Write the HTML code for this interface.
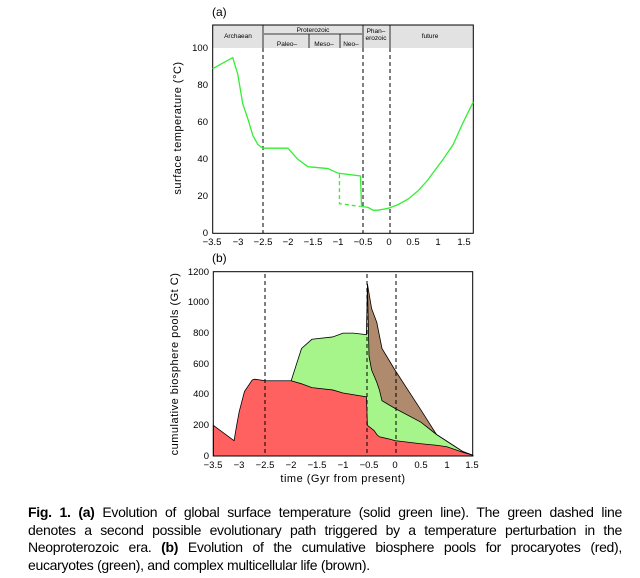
<!DOCTYPE html><html><head><style>body{margin:0;background:#fff;width:640px;height:578px;overflow:hidden;font-family:"Liberation Sans",sans-serif}
.c{position:absolute;left:28px;top:504px;width:594px;font-size:14px;line-height:17.5px;color:#000;letter-spacing:-0.3px}
.c div{text-align:justify;text-align-last:justify;white-space:nowrap}
.c div.l{text-align-last:left}
</style></head><body>
<svg width="640" height="490" style="position:absolute;left:0;top:0" font-family="Liberation Sans,sans-serif">
<text x="212" y="16" font-size="12">(a)</text>
<rect x="212.7" y="25" width="260.6" height="23" fill="#e2e2e2"/>
<g stroke="#000" stroke-width="0.8" fill="none">
<line x1="263" y1="25" x2="263" y2="48"/><line x1="363" y1="25" x2="363" y2="48"/><line x1="390" y1="25" x2="390" y2="48"/>
<line x1="264" y1="34" x2="362" y2="34"/><line x1="309" y1="34" x2="309" y2="48"/><line x1="340" y1="34" x2="340" y2="48"/>
</g>
<g font-size="6.5" text-anchor="middle">
<text x="238" y="38">Archaean</text><text x="313" y="32">Proterozoic</text>
<text x="287" y="46">Paleo–</text><text x="324" y="46">Meso–</text><text x="351" y="46">Neo–</text>
<text x="376" y="33">Phan–</text><text x="376" y="40">erozoic</text><text x="430" y="38">future</text>
</g>
<rect x="212.7" y="25" width="260.6" height="208.3" fill="none" stroke="#000" stroke-width="1"/>
<g stroke="#000" stroke-dasharray="4,3" stroke-width="1">
<line x1="263" y1="48" x2="263" y2="233"/><line x1="363" y1="48" x2="363" y2="233"/><line x1="390" y1="48" x2="390" y2="233"/>
</g>
<g transform="translate(388.05,233.3) scale(50.1,-1.85)" fill="none" stroke="#33ee33">
<polyline vector-effect="non-scaling-stroke" stroke-width="1.3" points="-3.5,89 -3.1,95 -3,86 -2.9,70 -2.8,62 -2.7,53 -2.6,48 -2.5,46 -2,46 -1.8,40 -1.6,36 -1.2,35 -1,32.5 -0.55,31 -0.53,14.5 -0.4,14 -0.3,12.5 -0.2,12.5 0,13.5 0.2,15.5 0.4,18.5 0.6,23 0.8,29 0.85,31 1.1,40 1.3,48 1.5,60 1.7,71"/>
<polyline vector-effect="non-scaling-stroke" stroke-width="1.3" stroke-dasharray="4,3" points="-0.97,32 -0.97,16 -0.55,14.5"/>
</g>
<g font-size="9.5" text-anchor="end">
<text x="208" y="236">0</text><text x="208" y="199">20</text><text x="208" y="162">40</text><text x="208" y="125">60</text><text x="208" y="88">80</text><text x="208" y="51">100</text></g>
<g font-size="9.5" text-anchor="middle">
<text x="212" y="245">−3.5</text><text x="238" y="245">−3</text><text x="263" y="245">−2.5</text><text x="288" y="245">−2</text><text x="313" y="245">−1.5</text><text x="338" y="245">−1</text><text x="363" y="245">−0.5</text><text x="389" y="245">0</text><text x="413" y="245">0.5</text><text x="438" y="245">1</text><text x="464" y="245">1.5</text></g>
<text transform="translate(181,128) rotate(-90)" font-size="11" text-anchor="middle" letter-spacing="0.5">surface temperature (°C)</text>

<text x="212" y="262" font-size="12">(b)</text>
<g transform="translate(394.95,456) scale(51.9,-0.1536)" stroke="#000">
<polygon vector-effect="non-scaling-stroke" stroke-width="0.8" fill="#b08a6c" points="-0.53,1120 -0.45,960 -0.35,870 -0.25,700 0,560 0.5,300 0.8,140 1.3,30 1.5,5 1.5,0 -0.53,0"/>
<polygon vector-effect="non-scaling-stroke" stroke-width="0.8" fill="#a6f58a" points="-2,490 -1.8,700 -1.6,760 -1.2,775 -1,800 -0.8,800 -0.55,790 -0.53,1120 -0.5,650 -0.45,560 -0.35,480 -0.3,430 -0.25,360 0,310 0.5,220 0.8,140 1.3,30 1.5,5 1.5,0 -2,0"/>
<polygon vector-effect="non-scaling-stroke" stroke-width="0.8" fill="#ff6060" points="-3.5,200 -3.1,100 -3.05,200 -3,290 -2.9,420 -2.75,495 -2.7,500 -2.5,490 -2,490 -1.8,470 -1.6,445 -1.2,430 -1,410 -0.55,385 -0.53,200 -0.4,165 -0.35,140 -0.3,125 -0.1,110 0,100 0.5,80 0.8,70 1,60 1.3,25 1.5,5 1.5,0 -3.5,0"/>
</g>
<rect x="213.3" y="271.7" width="259.4" height="184.3" fill="none" stroke="#000" stroke-width="1"/>
<g stroke="#000" stroke-dasharray="4,3" stroke-width="1">
<line x1="265" y1="274" x2="265" y2="456"/><line x1="367" y1="274" x2="367" y2="456"/><line x1="396" y1="274" x2="396" y2="456"/>
</g>
<g font-size="9.5" text-anchor="end">
<text x="209" y="459">0</text><text x="209" y="428">200</text><text x="209" y="397">400</text><text x="209" y="367">600</text><text x="209" y="336">800</text><text x="209" y="305">1000</text><text x="209" y="275">1200</text></g>
<g font-size="9.5" text-anchor="middle">
<text x="213" y="468">−3.5</text><text x="239" y="468">−3</text><text x="265" y="468">−2.5</text><text x="291" y="468">−2</text><text x="317" y="468">−1.5</text><text x="343" y="468">−1</text><text x="369" y="468">−0.5</text><text x="395" y="468">0</text><text x="421" y="468">0.5</text><text x="447" y="468">1</text><text x="472" y="468">1.5</text></g>
<text x="343" y="482" font-size="11" text-anchor="middle" letter-spacing="0.5">time (Gyr from present)</text>
<text transform="translate(178,364) rotate(-90)" font-size="11" text-anchor="middle" letter-spacing="0.5">cumulative biosphere pools (Gt C)</text>
</svg>
<div class="c">
<div><b>Fig. 1. (a)</b> Evolution of global surface temperature (solid green line). The green dashed line</div>
<div>denotes a second possible evolutionary path triggered by a temperature perturbation in the</div>
<div>Neoproterozoic era. <b>(b)</b> Evolution of the cumulative biosphere pools for procaryotes (red),</div>
<div class="l">eucaryotes (green), and complex multicellular life (brown).</div>
</div>
</body></html>
